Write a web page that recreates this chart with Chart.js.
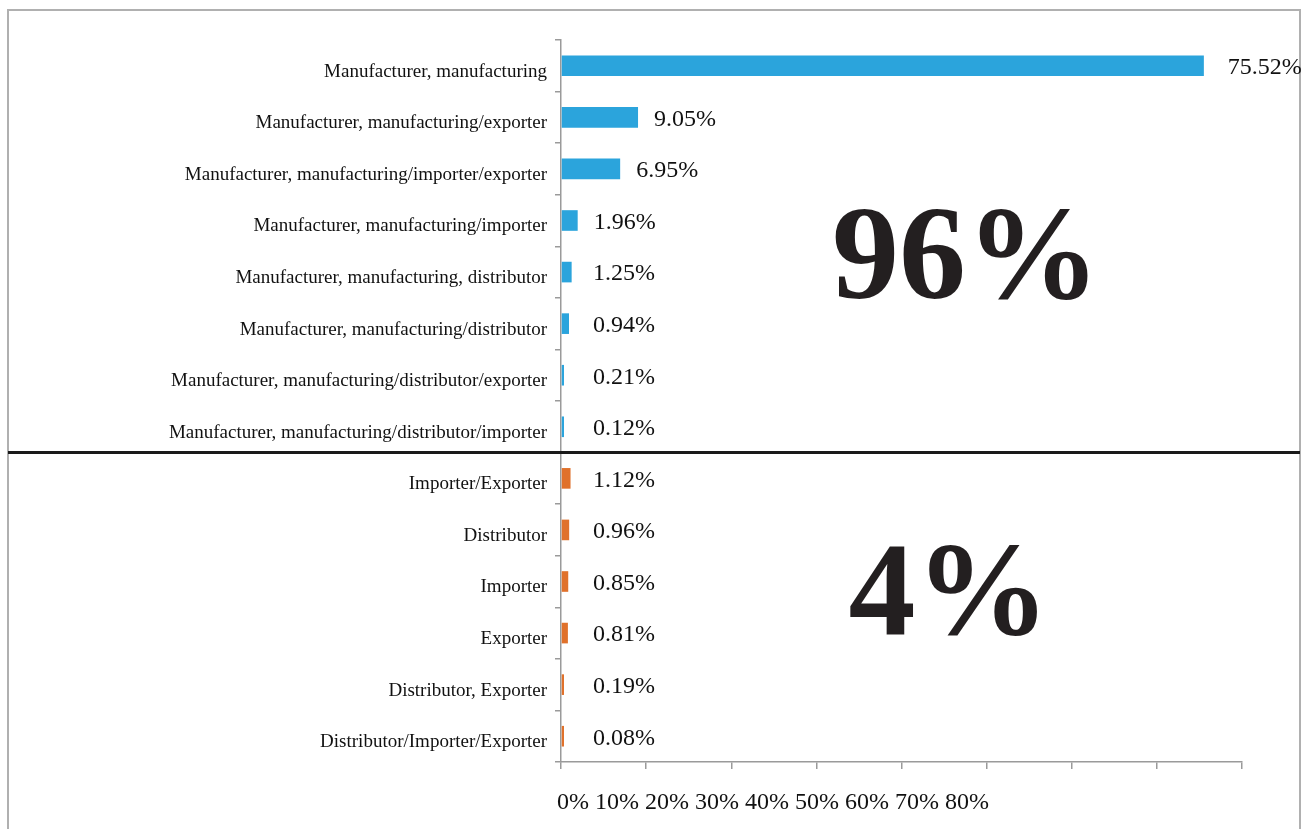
<!DOCTYPE html>
<html>
<head>
<meta charset="utf-8">
<script src="https://cdn.jsdelivr.net/npm/chart.js@4.4.1/dist/chart.umd.min.js"></script>
<style>
  html, body { margin: 0; padding: 0; background: #fff; }
  #wrap { width: 1315px; height: 829px; }
</style>
</head>
<body>
<div id="wrap"><canvas id="chart" width="1315" height="829"></canvas></div>
<script>
const categories = [
  "Manufacturer, manufacturing",
  "Manufacturer, manufacturing/exporter",
  "Manufacturer, manufacturing/importer/exporter",
  "Manufacturer, manufacturing/importer",
  "Manufacturer, manufacturing, distributor",
  "Manufacturer, manufacturing/distributor",
  "Manufacturer, manufacturing/distributor/exporter",
  "Manufacturer, manufacturing/distributor/importer",
  "Importer/Exporter",
  "Distributor",
  "Importer",
  "Exporter",
  "Distributor, Exporter",
  "Distributor/Importer/Exporter"
]
const values = [75.52, 9.05, 6.95, 1.96, 1.25, 0.94, 0.21, 0.12, 1.12, 0.96, 0.85, 0.81, 0.19, 0.08]
const manufacturerCount = 8
const groupTotals = ["96%", "4%"]
const tickLabels = ["0%", "10%", "20%", "30%", "40%", "50%", "60%", "70%", "80%"]

const BLUE = "#2ba4dc"
const ORANGE = "#e0712b"
const AXIS = "#9a9a9a"
const SERIF = "'Liberation Serif', 'Times New Roman', serif"

let colors = values.map((_, i) => i < manufacturerCount ? BLUE : ORANGE)

const overlay = {
  id: "overlay",
  afterDraw(chart) {
    const ctx = chart.ctx
    const x = chart.scales.x
    const y = chart.scales.y
    ctx.save()

    // outer frame
    ctx.strokeStyle = "#b0b0b0"
    ctx.lineWidth = 2
    ctx.strokeRect(8, 10, 1292, 900)

    // divider between the two groups
    let splitY = (y.getPixelForValue(manufacturerCount - 1) + y.getPixelForValue(manufacturerCount)) / 2
    ctx.strokeStyle = "#1a1a1a"
    ctx.lineWidth = 3
    ctx.beginPath()
    ctx.moveTo(8, splitY)
    ctx.lineTo(1300, splitY)
    ctx.stroke()

    // value labels
    ctx.fillStyle = "#111"
    ctx.font = "24px " + SERIF
    ctx.textAlign = "left"
    ctx.textBaseline = "middle"
    let zero = x.getPixelForValue(0)
    chart.getDatasetMeta(0).data.forEach((bar, i) => {
      let lx = Math.max(bar.x + 16, zero + 32)
      if (i === 0) lx = bar.x + 24
      ctx.fillText(values[i].toFixed(2) + "%", lx, bar.y + 2)
    })

    // tick labels, squeezed together under the axis as in the original
    ctx.font = "24px " + SERIF
    ctx.textBaseline = "alphabetic"
    ctx.fillText(tickLabels.join(" "), zero - 4, 809)

    // group totals
    ctx.font = "bold 134px " + SERIF
    ctx.textAlign = "center"
    ctx.fillStyle = "#231f20"
    ctx.fillText(groupTotals[0], 966, 298)
    ctx.fillText(groupTotals[1], 949, 634)

    ctx.restore()
  }
}

new Chart(document.getElementById("chart"), {
  type: "bar",
  data: {
    labels: categories,
    datasets: [{
      data: values,
      backgroundColor: colors,
      barPercentage: 0.4,
      categoryPercentage: 1,
      minBarLength: 3
    }]
  },
  options: {
    indexAxis: "y",
    responsive: false,
    animation: false,
    layout: { padding: { top: 40, right: 73, left: 0, bottom: 0 } },
    plugins: {
      legend: { display: false },
      tooltip: { enabled: false }
    },
    scales: {
      x: {
        min: 0,
        max: 80,
        ticks: { display: false, stepSize: 10 },
        grid: { drawOnChartArea: false, drawTicks: true, tickLength: 7, color: AXIS, lineWidth: 1.5 },
        border: { color: AXIS, width: 1.5 },
        afterFit(scale) { scale.height = 67 }
      },
      y: {
        ticks: {
          color: "#111",
          font: { family: SERIF, size: 19 },
          padding: 8,
          labelOffset: 6,
          autoSkip: false
        },
        grid: { drawOnChartArea: false, drawTicks: true, tickLength: 6, color: AXIS, lineWidth: 1.5 },
        border: { color: AXIS, width: 1.5 },
        afterFit(scale) { scale.width = 561 }
      }
    }
  },
  plugins: [overlay]
})
</script>
</body>
</html>
